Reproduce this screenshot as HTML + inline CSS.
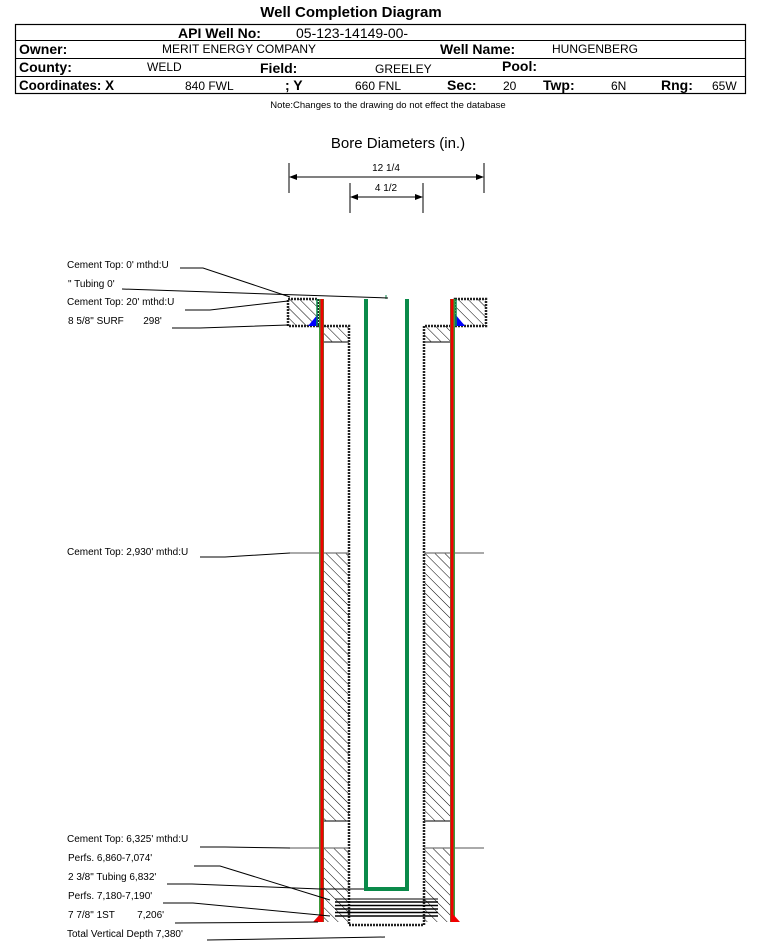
<!DOCTYPE html>
<html><head><meta charset="utf-8"><style>
body{margin:0;background:#fff;}
svg{display:block;font-family:"Liberation Sans",Arial,sans-serif;}
.b{font-weight:bold;font-size:14px;}
.v{font-size:12px;}
.l{font-size:10px;}
</style></head><body>
<svg width="759" height="943" viewBox="0 0 759 943" xmlns="http://www.w3.org/2000/svg">
<defs>
<pattern id="h" patternUnits="userSpaceOnUse" width="7" height="7" patternTransform="rotate(-45)">
<rect width="7" height="7" fill="#fff"/><line x1="0" y1="0" x2="0" y2="7" stroke="#000" stroke-width="1"/>
</pattern>
</defs>
<text x="351" y="17" text-anchor="middle" font-weight="bold" font-size="15">Well Completion Diagram</text>
<rect x="15.5" y="24.5" width="730" height="69" fill="none" stroke="#000" stroke-width="1.2"/>
<line x1="15" y1="40.5" x2="745" y2="40.5" stroke="#000"/>
<line x1="15" y1="58.5" x2="745" y2="58.5" stroke="#000"/>
<line x1="15" y1="76.5" x2="745" y2="76.5" stroke="#000"/>
<text x="178" y="38" class="b">API Well No:</text><text x="296" y="38" font-size="14">05-123-14149-00-</text>
<text x="19" y="54" class="b">Owner:</text><text x="162" y="53" class="v">MERIT ENERGY COMPANY</text>
<text x="440" y="54" class="b">Well Name:</text><text x="552" y="53" class="v">HUNGENBERG</text>
<text x="19" y="72" class="b">County:</text><text x="147" y="71" class="v">WELD</text>
<text x="260" y="73" class="b">Field:</text><text x="375" y="73" class="v">GREELEY</text>
<text x="502" y="71" class="b">Pool:</text>
<text x="19" y="90" class="b" textLength="95" lengthAdjust="spacingAndGlyphs">Coordinates: X</text><text x="185" y="90" class="v">840 FWL</text>
<text x="285" y="90" class="b">; Y</text><text x="355" y="90" class="v">660 FNL</text>
<text x="447" y="90" class="b">Sec:</text><text x="503" y="90" class="v">20</text>
<text x="543" y="90" class="b">Twp:</text><text x="611" y="90" class="v">6N</text>
<text x="661" y="90" class="b">Rng:</text><text x="712" y="90" class="v">65W</text>
<text x="388" y="108" text-anchor="middle" font-size="9.5">Note:Changes to the drawing do not effect the database</text>

<text x="398" y="148" text-anchor="middle" font-size="15">Bore Diameters (in.)</text>
<g stroke="#000">
<line x1="289" y1="163" x2="289" y2="193"/><line x1="484" y1="163" x2="484" y2="193"/>
<line x1="292" y1="177" x2="481" y2="177"/>
<line x1="350" y1="183" x2="350" y2="213"/><line x1="423" y1="183" x2="423" y2="213"/>
<line x1="353" y1="197" x2="420" y2="197"/>
</g>
<polygon points="289,177 297,174 297,180"/><polygon points="484,177 476,174 476,180"/>
<polygon points="350,197 358,194 358,200"/><polygon points="423,197 415,194 415,200"/>
<text x="386" y="171" text-anchor="middle" class="l">12 1/4</text>
<text x="386" y="191" text-anchor="middle" class="l">4 1/2</text>

<g fill="url(#h)">
<rect x="288" y="299" width="30" height="27"/><rect x="455" y="299" width="31" height="27"/>
<rect x="324" y="326" width="25" height="16"/><rect x="424" y="326" width="26" height="16"/>
<rect x="324" y="553" width="25" height="268"/><rect x="424" y="553" width="26" height="268"/>
<rect x="324" y="848" width="25" height="74"/><rect x="424" y="848" width="26" height="74"/>
</g>
<g fill="none" stroke="#222" stroke-width="2.5" stroke-dasharray="2,1">
<rect x="288" y="299" width="30" height="27"/><rect x="455" y="299" width="31" height="27"/>
<polyline points="318,326 349,326 349,925 424,925 424,326 455,326"/>
</g>
<g stroke="#333" stroke-width="1.2">
<line x1="324" y1="342" x2="349" y2="342"/><line x1="424" y1="342" x2="450" y2="342"/>
<line x1="324" y1="821" x2="349" y2="821"/><line x1="424" y1="821" x2="450" y2="821"/>
</g>
<g stroke="#777" stroke-width="1.2">
<line x1="290" y1="553" x2="349" y2="553"/><line x1="424" y1="553" x2="484" y2="553"/>
<line x1="290" y1="848" x2="349" y2="848"/><line x1="424" y1="848" x2="484" y2="848"/>
</g>
<g stroke="#000" stroke-width="1.5">
<line x1="335" y1="902" x2="438" y2="902"/><line x1="335" y1="905.5" x2="438" y2="905.5"/>
<line x1="335" y1="909" x2="438" y2="909"/><line x1="335" y1="912.5" x2="438" y2="912.5"/>
<line x1="335" y1="916" x2="438" y2="916"/>
</g>
<line x1="335" y1="899" x2="438" y2="899" stroke="#000" stroke-width="1"/>
<polygon points="318,314 318,326 308,326" fill="#0000ff"/>
<polygon points="455,314 455,326 465,326" fill="#0000ff"/>
<rect x="319" y="299" width="5" height="623" fill="#3a9a3a"/>
<rect x="320.5" y="299" width="3" height="623" fill="#f00000"/>
<rect x="450" y="299" width="5" height="623" fill="#3a9a3a"/>
<rect x="450.5" y="299" width="3" height="623" fill="#f00000"/>
<line x1="317" y1="299" x2="317" y2="326" stroke="#0a8a4a" stroke-width="1.5"/>
<line x1="456" y1="299" x2="456" y2="326" stroke="#0a8a4a" stroke-width="1.5"/>
<polygon points="322,912 322,922 313,922" fill="#f00000"/>
<polygon points="451,912 451,922 460,922" fill="#f00000"/>
<polyline points="366,299 366,889 407,889 407,299" fill="none" stroke="#0a8a4a" stroke-width="4"/>
<line x1="386" y1="295" x2="386" y2="299" stroke="#0a8a4a"/>
<g stroke="#000" fill="none" stroke-width="1">
<polyline points="180,268 203,268 290,297"/>
<polyline points="122,289 388,298"/>
<polyline points="185,310 210,310 288,301"/>
<polyline points="172,328 200,328 288,325"/>
<polyline points="200,557 225,557 290,553"/>
<polyline points="200,847 225,847 290,848"/>
<polyline points="194,866 220,866 330,900"/>
<polyline points="167,884 192,884 320,889 364,889"/>
<polyline points="163,903 193,903 330,916"/>
<polyline points="175,923 318,922"/>
<polyline points="207,940 385,937"/>
</g>
<g class="l">
<text x="67" y="268">Cement Top: 0' mthd:U</text>
<text x="68" y="287">" Tubing 0'</text>
<text x="67" y="305">Cement Top: 20' mthd:U</text>
<text x="68" y="324">8 5/8" SURF&#160;&#160;&#160;&#160;&#160;&#160;&#160;298'</text>
<text x="67" y="555">Cement Top: 2,930' mthd:U</text>
<text x="67" y="842">Cement Top: 6,325' mthd:U</text>
<text x="68" y="861">Perfs. 6,860-7,074'</text>
<text x="68" y="880">2 3/8" Tubing 6,832'</text>
<text x="68" y="899">Perfs. 7,180-7,190'</text>
<text x="68" y="918">7 7/8" 1ST&#160;&#160;&#160;&#160;&#160;&#160;&#160;&#160;7,206'</text>
<text x="67" y="937">Total Vertical Depth 7,380'</text>
</g>
</svg>
</body></html>
